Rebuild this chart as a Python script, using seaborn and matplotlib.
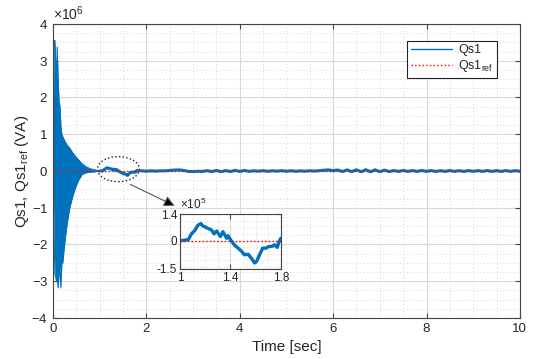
import numpy as np
import pandas as pd
import seaborn as sns
import matplotlib.pyplot as plt
from matplotlib.patches import Ellipse
from matplotlib.lines import Line2D
from matplotlib.ticker import ScalarFormatter, MultipleLocator, FixedFormatter

# start-up transient, envelope of the oscillation (VA x 1e6)
t_env = [0.0, 0.02, 0.04, 0.06, 0.08, 0.09, 0.11, 0.13, 0.15, 0.17, 0.19, 0.21,
         0.24, 0.28, 0.32, 0.36, 0.42, 0.48, 0.55, 0.62, 0.7, 0.8, 0.9, 1.0]
env_upper = [0.0, 3.5, 3.55, 2.9, 2.6, 3.37, 2.5, 1.9, 1.75, 1.2, 1.0, 0.93,
             0.85, 0.75, 0.68, 0.62, 0.5, 0.4, 0.3, 0.2, 0.12, 0.06, 0.03, 0.0]
env_lower = [0.0, -1.5, -2.8, -2.9, -3.0, -2.9, -3.18, -2.8, -2.6, -3.18, -2.5, -2.5,
             -2.1, -1.65, -1.3, -1.0, -0.7, -0.46, -0.25, -0.1, -0.05, -0.03, -0.02, 0.0]

# zoomed window 1.0 - 1.8 s (VA x 1e5)
t_zoom = [1.0, 1.01, 1.066, 1.09, 1.12, 1.14, 1.165, 1.18, 1.21, 1.25, 1.27, 1.29,
          1.32, 1.34, 1.37, 1.38, 1.41, 1.43, 1.46, 1.49, 1.51, 1.54, 1.57, 1.59,
          1.605, 1.63, 1.655, 1.68, 1.7, 1.73, 1.75, 1.77, 1.785]
q_zoom = [0.0, 0.0, 0.05, 0.35, 0.55, 0.8, 0.9, 0.78, 0.68, 0.56, 0.35, 0.51,
          0.21, 0.47, 0.12, 0.26, -0.05, -0.22, -0.4, -0.58, -0.75, -0.72, -0.97, -1.18,
          -1.12, -0.75, -0.4, -0.4, -0.32, -0.3, -0.22, -0.36, -0.05]

# steady state 1.8 - 10 s, sampled every 0.1 s (VA x 1e4)
q_steady = [1.3, 0.5, -0.5, 0.4, -0.3, 0.5, 0.5, 1.5, 2.5, 3.0, 1.5, -1.0, -1.5, -0.8,
            -1.2, 1.0, -1.5, 1.5, -1.8, 1.2, -1.5, 1.8, -1.2, 1.5, -1.0, 0.6, -0.6, 0.8,
            -0.8, 0.6, -0.3, 0.8, -0.6, 0.6, -0.8, 0.3, -0.6, 0.6, -0.3, 1.0, 2.0, 3.0,
            1.0, 2.8, -1.5, 3.0, -1.8, 3.2, -2.0, 3.5, -2.2, 3.2, -2.0, 2.5, -1.5, 1.2,
            -1.2, 1.5, -1.0, 1.2, -1.2, 1.5, -1.0, 1.2, -1.2, 1.0, -1.0, 1.2, -1.0, 1.0,
            -1.2, 1.2, -1.0, 1.0, -1.0, 1.2, -1.0, 1.0, -1.2, 1.2, -1.0, 1.0, -0.6]
t_steady = np.round(np.linspace(1.8, 10.0, len(q_steady)), 2)

blue = '#0072BD'
red = '#FF0000'

sns.set_style('ticks')
plt.rcParams['font.family'] = ['Liberation Sans', 'DejaVu Sans']
plt.rcParams['axes.unicode_minus'] = False
plt.rcParams['mathtext.fontset'] = 'custom'
plt.rcParams['mathtext.rm'] = 'Liberation Sans'
plt.rcParams['mathtext.it'] = 'Liberation Sans'

df = pd.DataFrame({
    't': list(t_zoom) + list(t_steady),
    'q': [v * 1e5 for v in q_zoom] + [v * 1e4 for v in q_steady],
})
zoom = df[df.t <= 1.8]

fig = plt.figure(figsize=(5.33, 3.59), dpi=100)
ax = fig.add_axes([0.0994, 0.1142, 0.876, 0.819])

up = np.array(env_upper) * 1e6
lo = np.array(env_lower) * 1e6
ax.fill_between(t_env, lo, up, color=blue, lw=0)
sns.lineplot(x=t_env, y=up, ax=ax, color=blue, lw=0.8, estimator=None)
sns.lineplot(x=t_env, y=lo, ax=ax, color=blue, lw=0.8, estimator=None)
sns.lineplot(data=df, x='t', y='q', ax=ax, color=blue, lw=2.2, estimator=None)
sns.lineplot(x=[0, 10], y=[0, 0], ax=ax, color=red, lw=1.0, ls=':')

ax.set_xlim(0, 10)
ax.set_ylim(-4e6, 4e6)
ax.xaxis.set_major_locator(MultipleLocator(2))
ax.xaxis.set_minor_locator(MultipleLocator(0.5))
ax.yaxis.set_major_locator(MultipleLocator(1e6))
ax.yaxis.set_minor_locator(MultipleLocator(0.25e6))
fmt = ScalarFormatter(useMathText=True)
fmt.set_powerlimits((0, 0))
ax.yaxis.set_major_formatter(fmt)
ax.yaxis.get_offset_text().set_fontsize(10)
ax.grid(which='major', color='#d9d9d9', lw=0.8)
ax.grid(which='minor', color='#c8c8c8', lw=0.6, ls=(0, (1, 3)))
ax.set_axisbelow(True)
ax.tick_params(which='both', direction='in', top=True, right=True, labelsize=9.5,
               color='#444444')
ax.tick_params(which='minor', length=0)
for s in ax.spines.values():
    s.set_color('#444444')
    s.set_linewidth(0.8)
ax.set_xlabel('Time [sec]', fontsize=11)
ax.set_ylabel('Qs1, Qs1$_{ref}$ (VA)', fontsize=11, labelpad=0)

handles = [Line2D([], [], color=blue, lw=1.0),
           Line2D([], [], color=red, lw=1.0, ls=':')]
leg = ax.legend(handles, ['Qs1', 'Qs1$_{ref}$'], loc='upper right',
                bbox_to_anchor=(0.965, 0.965), fontsize=9,
                fancybox=False, framealpha=1, edgecolor='#222222',
                handlelength=3.3, borderpad=0.3, labelspacing=0.15,
                handletextpad=0.5)
leg.get_frame().set_linewidth(0.8)

ax.add_patch(Ellipse((1.4, 0.05e6), 0.9, 0.68e6, fill=False, ls=':', lw=1.0,
                     ec='#222222'))
ax.annotate('', xy=(2.66, -0.98e6), xytext=(1.6, -0.33e6),
            arrowprops=dict(arrowstyle='-|>', color='#555555', lw=0.8,
                            mutation_scale=16, fc='black'))

ins = fig.add_axes([0.3377, 0.2507, 0.1895, 0.153])
sns.lineplot(data=zoom, x='t', y='q', ax=ins, color=blue, lw=2.4, estimator=None)
sns.lineplot(x=[1, 1.8], y=[0, 0], ax=ins, color=red, lw=1.0, ls=':')
ins.set_xlim(1, 1.8)
ins.set_ylim(-1.5e5, 1.4e5)
ins.set_xticks([1, 1.4, 1.8])
ins.set_xticklabels(['1', '1.4', '1.8'])
ins.set_yticks([-1.5e5, 0, 1.4e5])
ins.yaxis.set_major_formatter(FixedFormatter(['-1.5', '0', '1.4']))
ins.text(0.0, 1.03, r'$\times10^5$', transform=ins.transAxes, fontsize=8.5,
         ha='left', va='bottom')
ins.xaxis.set_minor_locator(MultipleLocator(0.1))
ins.yaxis.set_minor_locator(MultipleLocator(0.35e5))
ins.grid(which='major', color='#d9d9d9', lw=0.8)
ins.grid(which='minor', color='#c8c8c8', lw=0.6, ls=(0, (1, 3)))
ins.tick_params(which='both', direction='in', top=True, right=True, labelsize=8.5,
                pad=2, color='#444444')
ins.tick_params(which='minor', length=0)
for s in ins.spines.values():
    s.set_color('#444444')
    s.set_linewidth(0.8)
ins.set_xlabel('')
ins.set_ylabel('')

fig.savefig('out.png', dpi=100)
